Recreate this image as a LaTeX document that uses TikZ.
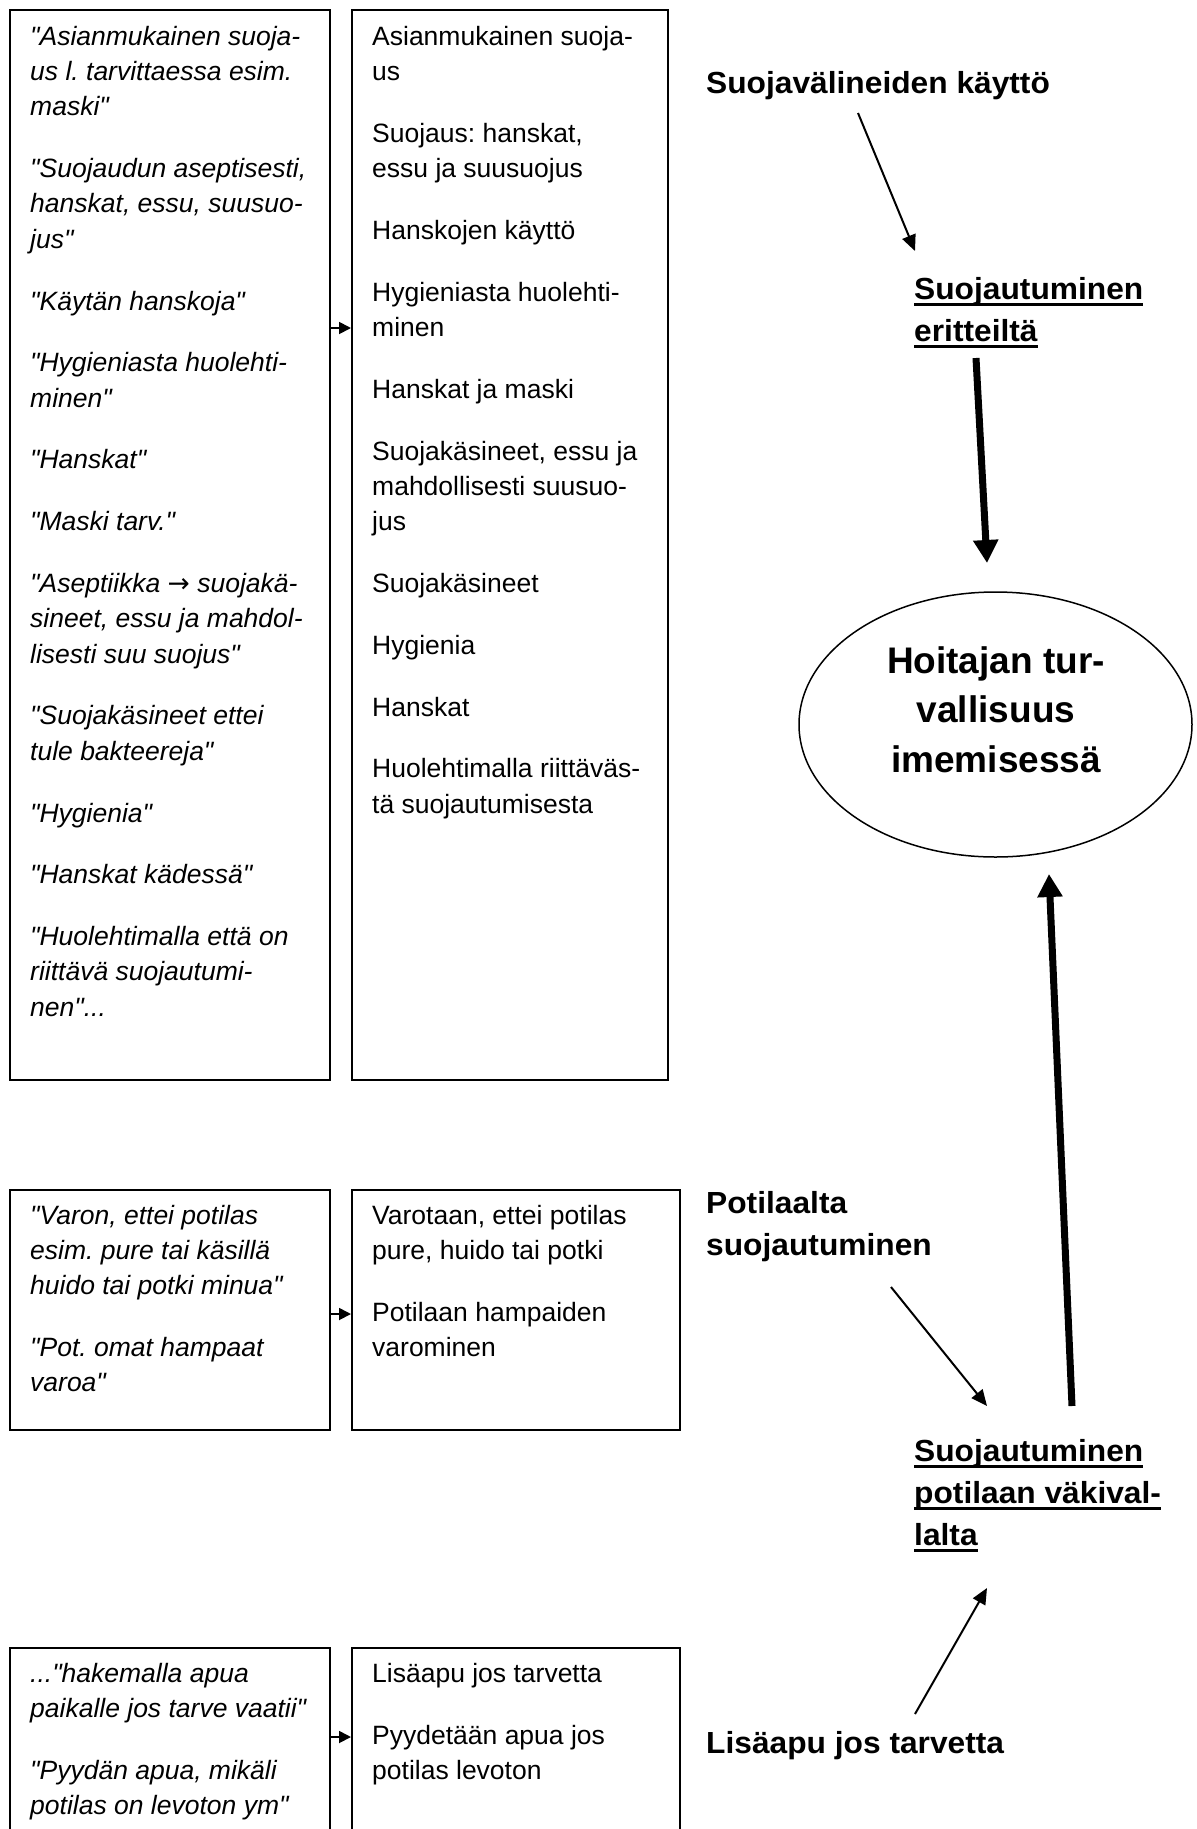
\documentclass[tikz,border=0pt]{standalone}
\usepackage{fontspec}
\setmainfont{Liberation Sans}[Ligatures=TeXOff]
\newfontfamily\lblfam{Liberation Sans}[FakeStretch=1.04,Ligatures=TeXOff]
\newfontfamily\symfam{DejaVu Sans}
\usetikzlibrary{arrows.meta,shapes.geometric}
\frenchspacing

\newsavebox\ulbox
\newcommand{\ulin}[1]{\sbox\ulbox{#1}\rlap{\rule[-7pt]{\wd\ulbox}{3pt}}\usebox\ulbox}
\newcommand{\topln}[1]{\rule{0pt}{#1}}

\begin{document}
\begin{tikzpicture}[x=1pt,y=-1pt,
  box/.style={draw,line width=1.8pt,anchor=north west,inner sep=0pt},
  quote/.style={anchor=north west,inner sep=0pt,align=left,font=\itshape\fontsize{26.5}{35.3}\selectfont},
  code/.style={anchor=north west,inner sep=0pt,align=left,font=\fontsize{26.5}{35.3}\selectfont},
  lbl/.style={anchor=north west,inner sep=0pt,align=left,font=\lblfam\bfseries\fontsize{30.5}{42}\selectfont},
  ellbox/.style={draw,ellipse,line width=1.5pt,inner sep=0pt,minimum width=393pt,minimum height=265pt},
  elltext/.style={anchor=north,inner sep=0pt,align=center,font=\bfseries\fontsize{37}{49.5}\selectfont},
  smallarrow/.style={line width=1.8pt,-{Triangle[length=12pt,width=12pt]}},
  thinarrow/.style={line width=2pt,-{Triangle[length=16pt,width=14pt]}},
  bigarrow/.style={line width=7pt,-{Triangle[length=23pt,width=24pt]}}]

  \useasboundingbox (0,0) rectangle (1197,1829);
  \begin{scope}
  \clip (0,0) rectangle (1197,1829);

  %枠
  \node[box,minimum width=320pt,minimum height=1070pt] (qa) at (9,9) {};
  \node[box,minimum width=316pt,minimum height=1070pt] (ca) at (351,9) {};
  \node[box,minimum width=320pt,minimum height=240pt] (qb) at (9,1189) {};
  \node[box,minimum width=328pt,minimum height=240pt] (cb) at (351,1189) {};
  \node[box,minimum width=320pt,minimum height=300pt] (qc) at (9,1647) {};
  \node[box,minimum width=328pt,minimum height=300pt] (cc) at (351,1647) {};

  %引用
  \node[quote] (qatext) at (30,20) {\topln{25pt}"Asianmukainen suoja-\\us l. tarvittaessa esim.\\maski"\\[26.5pt]
    "Suojaudun aseptisesti,\\hanskat, essu, suusuo-\\jus"\\[26.5pt]
    "Käytän hanskoja"\\[26.5pt]
    "Hygieniasta huolehti-\\minen"\\[26.5pt]
    "Hanskat"\\[26.5pt]
    "Maski tarv."\\[26.5pt]
    "Aseptiikka {\symfam\upshape→} suojakä-\\sineet, essu ja mahdol-\\lisesti suu suojus"\\[26.5pt]
    "Suojakäsineet ettei\\tule bakteereja"\\[26.5pt]
    "Hygienia"\\[26.5pt]
    "Hanskat kädessä"\\[26.5pt]
    "Huolehtimalla että on\\riittävä suojautumi-\\nen"...};
  \node[quote] (qbtext) at (30,1199) {\topln{25pt}"Varon, ettei potilas\\esim. pure tai käsillä\\huido tai potki minua"\\[26.5pt]
    "Pot. omat hampaat\\varoa"};
  \node[quote] (qctext) at (30,1657) {\topln{25pt}..."hakemalla apua\\paikalle jos tarve vaatii"\\[26.5pt]
    "Pyydän apua, mikäli\\potilas on levoton ym"};

  %ala-luokat
  \node[code] (catext) at (372,20) {\topln{25pt}Asianmukainen suoja-\\us\\[26.5pt]
    Suojaus: hanskat,\\essu ja suusuojus\\[26.5pt]
    Hanskojen käyttö\\[26.5pt]
    Hygieniasta huolehti-\\minen\\[26.5pt]
    Hanskat ja maski\\[26.5pt]
    Suojakäsineet, essu ja\\mahdollisesti suusuo-\\jus\\[26.5pt]
    Suojakäsineet\\[26.5pt]
    Hygienia\\[26.5pt]
    Hanskat\\[26.5pt]
    Huolehtimalla riittäväs-\\tä suojautumisesta};
  \node[code] (cbtext) at (372,1199) {\topln{25pt}Varotaan, ettei potilas\\pure, huido tai potki\\[26.5pt]
    Potilaan hampaiden\\varominen};
  \node[code] (cctext) at (372,1657) {\topln{25pt}Lisäapu jos tarvetta\\[26.5pt]
    Pyydetään apua jos\\potilas levoton};

  %小さい矢印
  \coordinate (arA) at (0,328);
  \coordinate (arB) at (0,1314);
  \coordinate (arC) at (0,1737);
  \draw[smallarrow] (qa.east |- arA) -- (ca.west |- arA);
  \draw[smallarrow] (qb.east |- arB) -- (cb.west |- arB);
  \draw[smallarrow] (qc.east |- arC) -- (cc.west |- arC);

  %見出し
  \node[lbl] (lblA) at (706,63) {\topln{30pt}Suojavälineiden käyttö};
  \node[lbl] (ulA) at (914,269) {\topln{30pt}\ulin{Suojautuminen}\\\ulin{eritteiltä}};
  \node[lbl] (lblB) at (706,1183) {\topln{30pt}Potilaalta\\suojautuminen};
  \node[lbl] (ulB) at (914,1431) {\topln{30pt}\ulin{Suojautuminen}\\\ulin{potilaan väkival-}\\\ulin{lalta}};
  \node[lbl] (lblC) at (706,1723) {\topln{30pt}Lisäapu jos tarvetta};

  %楕円
  \node[ellbox] (ell) at (995.5,724.5) {};
  \node[elltext] (elltxt) at (996,638) {\topln{35pt}Hoitajan tur-\\vallisuus\\imemisessä};

  %点
  \coordinate (A) at (858,113);
  \coordinate (B) at (915,251);
  \coordinate (C) at (976,358);
  \coordinate (D) at (987,563);
  \coordinate (E) at (1072,1406);
  \coordinate (F) at (1049,874);
  \coordinate (G) at (891,1287);
  \coordinate (H) at (987,1406);
  \coordinate (I) at (915,1714);
  \coordinate (J) at (987,1588);

  %矢印
  \draw[thinarrow] (A)--(B);
  \draw[bigarrow] (C)--(D);
  \draw[bigarrow] (E)--(F);
  \draw[thinarrow] (G)--(H);
  \draw[thinarrow] (I)--(J);
  \end{scope}
\end{tikzpicture}
\end{document}
